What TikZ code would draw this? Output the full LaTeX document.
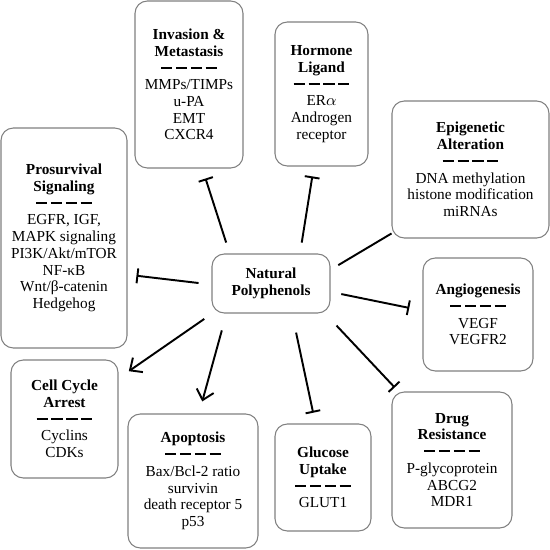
\documentclass[tikz,border=0pt]{standalone}
\usepackage{fontspec}
\setmainfont{Liberation Serif}
\usepackage{tikz}
\usetikzlibrary{arrows.meta}
\tikzstyle{cat}=[rectangle, draw=gray, line width=0.6pt, rounded corners=7pt,
		align=center, inner sep=2pt, font=\fontsize{8.7}{9.5}\selectfont]
\tikzstyle{act}=[-{Straight Barb[length=5.5pt,width=10pt]}, line width=1.1pt]
\tikzstyle{inh}=[-{Bar[width=8.5pt]}, line width=1.1pt]
\newcommand{\dashbit}{\rule[2.4pt]{6.4pt}{1.1pt}}
\newcommand{\dashrow}{\dashbit\hspace{2pt}\dashbit\hspace{2pt}\dashbit\hspace{2pt}\dashbit}

\begin{document}
\begin{tikzpicture}[x=0.02cm,y=-0.02cm]

    \useasboundingbox (0,0) rectangle (550,550);

    \node (Nat) [cat, minimum width=2.36cm, minimum height=1.18cm] at (271,283.5) {
      \textbf{Natural}\\ \textbf{Polyphenols}};

    \node (Inv) [cat, minimum width=2.16cm, minimum height=3.34cm] at (189,84.5) {
      \textbf{Invasion \&}\\ \textbf{Metastasis}\\ \dashrow\\
        MMPs/TIMPs\\ u-PA\\ EMT\\ CXCR4};

    \node (Horm) [cat, minimum width=1.86cm, minimum height=2.88cm] at (321.5,94) {
      \textbf{Hormone}\\ \textbf{Ligand}\\ \dashrow\\
        ER$\alpha$\\ Androgen\\ receptor};

    \node (Epi) [cat, minimum width=3.14cm, minimum height=2.74cm] at (470.5,169.5) {
      \textbf{Epigenetic}\\ \textbf{Alteration}\\ \dashrow\\
        DNA methylation\\ histone modification\\ miRNAs};

    \node (Pro) [cat, minimum width=2.52cm, minimum height=4.4cm] at (64,238) {
      \textbf{Prosurvival}\\ \textbf{Signaling}\\ \dashrow\\
        EGFR, IGF,\\ MAPK signaling\\ PI3K/Akt/mTOR\\ NF-κB\\ Wnt/β-catenin\\ Hedgehog};

    \node (Ang) [cat, minimum width=2.2cm, minimum height=2.26cm] at (478,314.5) {
      \textbf{Angiogenesis}\\ \dashrow\\
        VEGF\\ VEGFR2};

    \node (Cell) [cat, minimum width=2.14cm, minimum height=2.36cm] at (64.5,419) {
      \textbf{Cell Cycle}\\ \textbf{Arrest}\\ \dashrow\\
        Cyclins\\ CDKs};

    \node (Apo) [cat, minimum width=2.6cm, minimum height=2.68cm] at (193,481) {
      \textbf{Apoptosis}\\ \dashrow\\
        Bax/Bcl-2 ratio\\ survivin\\ death receptor 5\\ p53};

    \node (Glu) [cat, minimum width=1.92cm, minimum height=2.14cm] at (323,477.5) {
      \textbf{Glucose}\\ \textbf{Uptake}\\ \dashrow\\
        GLUT1};

    \node (Drug) [cat, minimum width=2.4cm, minimum height=2.72cm] at (452,460) {
      \textbf{Drug}\\ \textbf{Resistance}\\ \dashrow\\
        P-glycoprotein\\ ABCG2\\ MDR1};

    % inhibition
    \draw [inh, shorten <=0.23cm, shorten >=0.21cm] (Nat.144) -- (Inv.279);
    \draw [inh, shorten <=0.22cm, shorten >=0.2cm] (Nat.46) -- (Horm.264);
    \draw [inh, shorten <=0.26cm, shorten >=0.18cm] (Nat.181) -- (Pro.330);
    \draw [inh, shorten <=0.22cm, shorten >=0.27cm] (Nat.-8) -- (Ang.176);
    \draw [inh, shorten <=0.39cm, shorten >=0.22cm] (Nat.305) -- (Glu.98);
    \draw [inh, shorten <=0.33cm, shorten >=0.11cm] (Nat.331) -- (Drug.128);

    % plain link
    \draw [line width=1.1pt, shorten <=0.18cm] (Nat.13) -- (Epi.219);

    % induction
    \draw [act, shorten <=0.19cm, shorten >=0.25cm] (Nat.207) -- (Cell.37);
    \draw [act, shorten <=0.35cm, shorten >=0.25cm] (Nat.214) -- (Apo.85);

\end{tikzpicture}
\end{document}
